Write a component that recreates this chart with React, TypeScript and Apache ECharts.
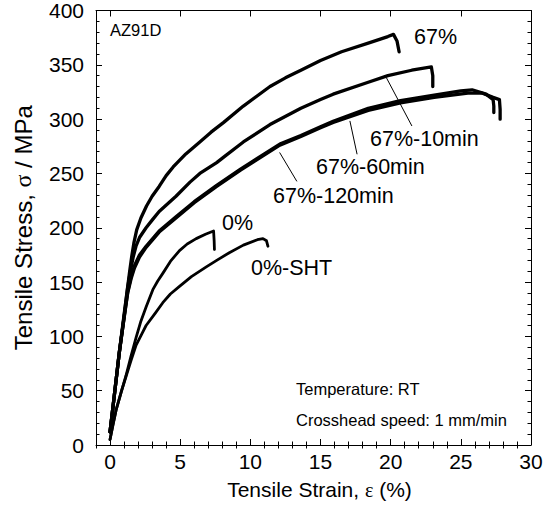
import React, { useEffect, useRef } from "react";
import * as echarts from "echarts";

// ---- data (strain %, stress MPa) ----
const curve67: number[][] = [
  [0, 12], [0.3, 45], [0.66, 85], [1.0, 120], [1.2, 140], [1.4, 160], [1.55, 174], [1.7, 186],
  [1.9, 198], [2.2, 209], [2.6, 220], [3.0, 229], [3.5, 238], [4.0, 248], [4.5, 256], [5.4, 268],
  [6.4, 279], [7.2, 288], [8.1, 297], [9.5, 312], [11.4, 330], [12.5, 338], [13.6, 345], [15, 354],
  [16.5, 362], [18.4, 370], [19.8, 376], [20.2, 378], [20.45, 372], [20.6, 362],
];
const curve67_10: number[][] = [
  [0, 12], [0.3, 45], [0.66, 85], [1.0, 118], [1.26, 145], [1.45, 160], [1.65, 173], [1.85, 183],
  [2.1, 191], [2.57, 200], [3.0, 207], [3.5, 215], [4.7, 229], [5.7, 242], [6.4, 250], [7.6, 260],
  [8.1, 265], [9.5, 279], [11.4, 295], [13.6, 310], [15, 318], [15.9, 323], [18.4, 334], [19.8, 340],
  [21.5, 345], [22.9, 348], [23.0, 340], [23.0, 330],
];
const curve67_60: number[][] = [
  [0, 12], [0.3, 45], [0.66, 85], [1.0, 117], [1.26, 140], [1.5, 153], [1.74, 163], [2.1, 173],
  [2.57, 182], [3.5, 196], [4.7, 209], [6.0, 223], [7.6, 238], [9.3, 253], [12.1, 276], [13.6, 284],
  [15, 292], [15.9, 297], [18.4, 308], [20.7, 315], [23.1, 320], [25.5, 324], [26.5, 324],
  [27.3, 320], [27.75, 318], [27.8, 309], [27.8, 300],
];
const curve67_120: number[][] = [
  [0, 12], [0.3, 45], [0.66, 85], [1.0, 117], [1.26, 141], [1.5, 155], [1.74, 165], [2.1, 175],
  [2.57, 183], [3.5, 197], [4.7, 210], [6.0, 224], [7.6, 239], [9.3, 254], [12.1, 277], [13.6, 285],
  [15, 293], [15.9, 298], [18.4, 310], [20.7, 317], [23.1, 322], [25.0, 326], [25.8, 327],
  [26.8, 323], [27.3, 318], [27.35, 312], [27.35, 306],
];
const curve0: number[][] = [
  [0, 5], [0.2, 18], [0.43, 32], [0.8, 49], [1.14, 64], [1.5, 82], [1.86, 99],
  [2.2, 114], [2.57, 127], [3.05, 143], [3.4, 151], [3.76, 158], [4.3, 169], [4.95, 179],
  [5.5, 185], [6.14, 190], [6.8, 194], [7.38, 197], [7.42, 188], [7.44, 180],
];
const curve0sht: number[][] = [
  [0, 5], [0.2, 18], [0.43, 32], [0.8, 49], [1.14, 63], [1.5, 78], [1.86, 92],
  [2.33, 104], [2.57, 110], [3.2, 121], [3.76, 131], [4.3, 139], [4.95, 146], [5.8, 155],
  [6.86, 164], [7.6, 170], [8.5, 177], [9.5, 184], [10.5, 189], [10.9, 190],
  [11.15, 188], [11.25, 183],
];

// leader lines for labels
const leader10: number[][] = [[19.7, 338], [21.5, 294]];
const leader60: number[][] = [[17.1, 298], [17.6, 268]];
const leader120: number[][] = [[12.1, 269], [13.3, 243]];

const xMajor = [0, 5, 10, 15, 20, 25, 30];
const xMinor: number[] = [];
for (let v = -1; v <= 30; v++) if (v % 5 !== 0) xMinor.push(v);

const FONT = "'Liberation Sans', Arial, Helvetica, sans-serif";
const SERIF = "'Liberation Serif', 'Times New Roman', serif";

export default function App() {
  const ref = useRef<HTMLDivElement>(null);
  useEffect(() => {
    document.body.style.margin = "0";
    const chart = echarts.init(ref.current!, undefined, { renderer: "svg" });
    const axisLineStyle = { color: "#000", width: 1 };
    const xBase = {
      type: "value",
      min: -1,
      max: 30,
      splitLine: { show: false },
      axisLine: { show: true, onZero: false, lineStyle: axisLineStyle },
    };
    const yBase = {
      type: "value",
      min: 0,
      max: 400,
      interval: 50,
      splitLine: { show: false },
      axisLine: { show: true, onZero: false, lineStyle: axisLineStyle },
      axisTick: { show: true, inside: true, length: 6, lineStyle: axisLineStyle },
      minorTick: { show: true, splitNumber: 5, length: 3.5, lineStyle: axisLineStyle },
    };
    const lineSeries = (data: number[][], width: number) => ({
      type: "line",
      data,
      showSymbol: false,
      symbol: "none",
      lineStyle: { color: "#000", width, join: "round", cap: "round" },
      silent: true,
    });
    const textEl = (text: string, x: number, y: number, size: number) => ({
      type: "text",
      x,
      y,
      silent: true,
      style: {
        text,
        fill: "#000",
        font: `${size}px ${FONT}`,
        textAlign: "left",
        textVerticalAlign: "middle",
      },
    });
    chart.setOption({
      animation: false,
      textStyle: { fontFamily: FONT },
      grid: { left: 96, top: 9, right: 19, bottom: 61, containLabel: false },
      xAxis: [
        {
          ...xBase,
          position: "bottom",
          axisTick: { show: true, inside: true, length: 6, customValues: xMajor, lineStyle: axisLineStyle },
          axisLabel: { show: true, customValues: xMajor, color: "#000", fontSize: 21, margin: 6, fontFamily: FONT },
          name: "Tensile Strain, {g|ε} (%)",
          nameLocation: "middle",
          nameGap: 34,
          nameTextStyle: {
            color: "#000",
            fontSize: 21,
            fontFamily: FONT,
            padding: [0, 0, 0, 12],
            rich: { g: { fontFamily: SERIF, fontSize: 20, color: "#000" } },
          },
        },
        {
          ...xBase,
          position: "bottom",
          axisLine: { show: false },
          axisTick: { show: true, inside: true, length: 3.5, customValues: xMinor, lineStyle: axisLineStyle },
          axisLabel: { show: false },
        },
        {
          ...xBase,
          position: "top",
          axisTick: { show: true, inside: true, length: 6, customValues: xMajor, lineStyle: axisLineStyle },
          axisLabel: { show: false },
        },
        {
          ...xBase,
          position: "top",
          axisLine: { show: false },
          axisTick: { show: true, inside: true, length: 3.5, customValues: xMinor, lineStyle: axisLineStyle },
          axisLabel: { show: false },
        },
      ],
      yAxis: [
        {
          ...yBase,
          position: "left",
          axisLabel: { show: true, color: "#000", fontSize: 21, margin: 12, fontFamily: FONT },
          name: "Tensile Stress, {g|σ} / MPa",
          nameLocation: "middle",
          nameGap: 61,
          nameTextStyle: {
            color: "#000",
            fontSize: 24,
            fontFamily: FONT,
            rich: { g: { fontFamily: SERIF, fontSize: 24, color: "#000" } },
          },
        },
        {
          ...yBase,
          position: "right",
          axisLabel: { show: false },
        },
      ],
      series: [
        lineSeries(curve67, 3.3),
        lineSeries(curve67_10, 3.3),
        lineSeries(curve67_60, 3.3),
        lineSeries(curve67_120, 3.3),
        lineSeries(curve0, 2.8),
        lineSeries(curve0sht, 2.8),
        lineSeries(leader10, 1),
        lineSeries(leader60, 1),
        lineSeries(leader120, 1),
      ],
      graphic: [
        textEl("AZ91D", 110, 30, 16.5),
        textEl("67%", 414, 37, 21.5),
        textEl("67%-10min", 370, 139, 21.5),
        textEl("67%-60min", 316, 167, 21.5),
        textEl("67%-120min", 273, 196, 21.5),
        textEl("0%", 222, 223, 21.5),
        textEl("0%-SHT", 251, 268, 21.5),
        textEl("Temperature: RT", 296, 389, 16.5),
        textEl("Crosshead speed: 1 mm/min", 296, 420, 16.5),
      ],
    });
    return () => chart.dispose();
  }, []);
  return <div ref={ref} style={{ width: 550, height: 506 }} />;
}
